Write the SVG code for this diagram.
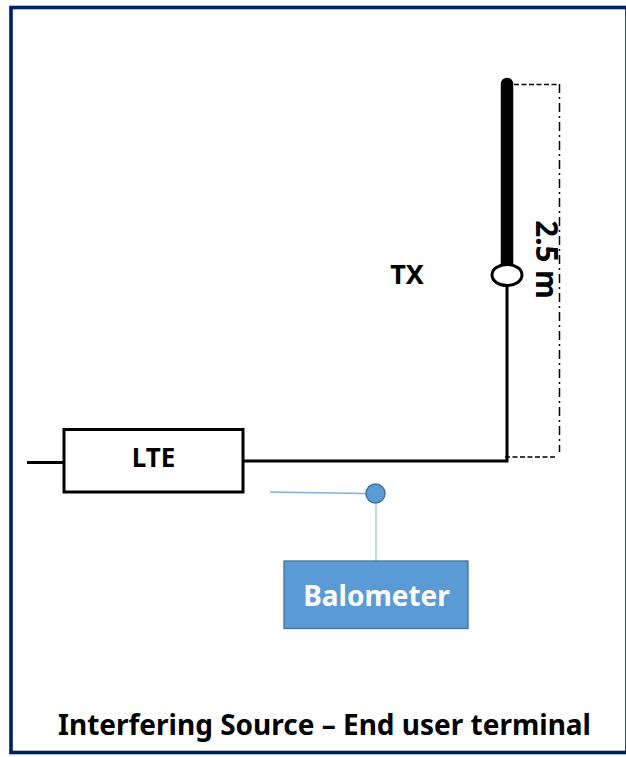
<svg xmlns="http://www.w3.org/2000/svg" width="626" height="757" viewBox="0 0 626 757">
<style>
text{font-family:"Noto Sans","Open Sans","Liberation Sans",sans-serif;font-weight:700;fill:#000}
.blk{fill:none;stroke:#000;stroke-width:3}
.dash{fill:none;stroke:#000;stroke-width:1.5}
.blue{fill:none;stroke:#9cc3e5;stroke-width:1.300}
</style>
<rect width="626" height="757" fill="#fff"/>
<rect id="frame" x="11" y="7.500" width="616" height="745" fill="none" stroke="#002060" stroke-width="3.600"/>
<g id="connectors">
<path class="blk" d="M27 462.500H64"/>
<path class="blk" d="M244 461H507V286"/>
<path d="M507 84V266" fill="none" stroke="#000" stroke-width="12.500" stroke-linecap="round"/>
<path class="dash" d="M514 84.500H558" stroke-dasharray="5 2.500"/>
<path class="dash" d="M559.500 84V452" stroke-dasharray="9 4 2 4"/>
<path class="dash" d="M505 457H556" stroke-dasharray="5 2.500"/>
<path d="M270 492L366 493.500" fill="none" stroke="#7fb0de" stroke-width="1.300"/>
<path class="blue" d="M376 503V561"/>
</g>
<g id="tx"><ellipse cx="507" cy="275" rx="15" ry="10.500" fill="#fff" stroke="#000" stroke-width="3"/>
<text x="407" y="283.500" font-size="27" text-anchor="middle">TX</text></g>
<g id="height-label"><text transform="translate(535.500 259.500) rotate(90)" font-size="29.500" text-anchor="middle">2.5 m</text></g>
<g id="lte"><rect x="64" y="429.500" width="179" height="62.500" fill="#fff" stroke="#000" stroke-width="3"/>
<text x="153.500" y="467" font-size="26" text-anchor="middle">LTE</text></g>
<g id="sensor"><circle cx="375.500" cy="493.500" r="9.500" fill="#5b9bd5" stroke="#41719c" stroke-width="1.500"/></g>
<g id="balometer"><rect x="284" y="561" width="184" height="67.500" fill="#5b9bd5" stroke="#41719c" stroke-width="1.300"/>
<text x="376.500" y="606" font-size="28" text-anchor="middle" style="fill:#fff">Balometer</text></g>
<g id="caption"><text x="324.500" y="735" font-size="28" text-anchor="middle">Interfering Source – End user terminal</text></g>
</svg>
